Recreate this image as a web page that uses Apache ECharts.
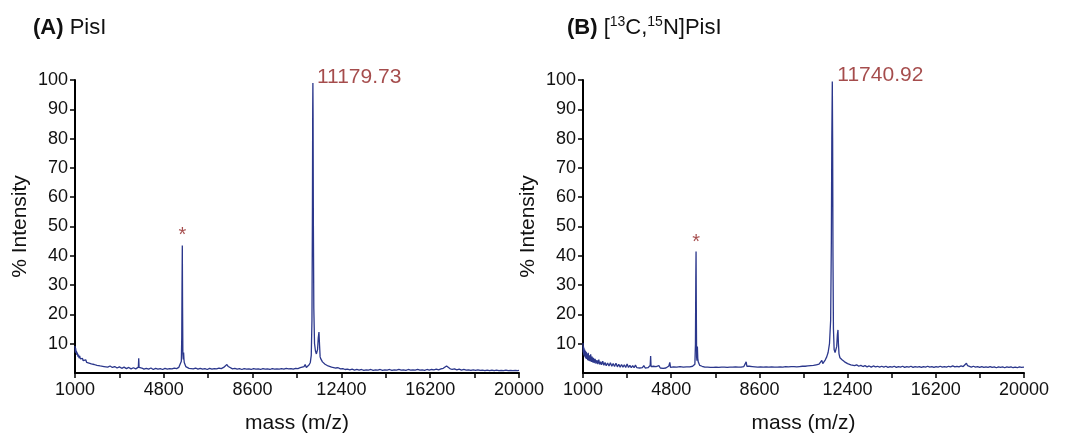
<!DOCTYPE html>
<html>
<head>
<meta charset="utf-8">
<script src="https://cdn.jsdelivr.net/npm/echarts@6/dist/echarts.min.js"></script>
<style>
html,body{margin:0;padding:0;background:#fff;}
#chart{width:1065px;height:439px;}
</style>
</head>
<body>
<div id="chart"></div>
<script>
// ---- Data ----
const xTickValues = [1000, 2900, 4800, 6700, 8600, 10500, 12400, 14300, 16200, 18100, 20000];
const xLabelValues = [1000, 4800, 8600, 12400, 16200, 20000];
const yTickValues = [10, 20, 30, 40, 50, 60, 70, 80, 90, 100];

// Panel A: PisI  [mass (m/z), % intensity]
const spectrumA = [
[1000,9.2],[1015,7.0],[1030,8.4],[1045,6.8],[1060,7.6],[1080,6.2],[1100,7.0],[1125,5.6],[1150,6.3],[1175,5.1],
[1200,5.8],[1230,4.8],[1260,5.4],[1290,4.4],[1320,5.0],[1350,4.2],[1380,4.7],[1420,3.9],[1460,4.5],[1500,3.6],
[1550,4.2],[1600,3.4],[1650,3.9],[1700,3.1],[1760,3.6],[1820,2.9],[1880,3.3],[1940,2.6],[2000,3.0],[2080,2.4],
[2160,2.8],[2240,2.2],[2320,2.6],[2400,2.0],[2500,2.4],[2600,1.9],[2700,2.2],[2800,1.7],[2900,2.1],[3000,1.6],
[3100,2.0],[3200,1.5],[3300,1.9],[3400,1.4],[3500,1.8],[3600,1.4],[3680,1.7],[3712,2.0],[3727,5.0],[3742,1.9],
[3780,1.4],[3860,1.7],[3950,1.3],[4050,1.6],[4150,1.3],[4250,1.7],[4350,1.2],[4450,1.6],[4550,1.3],[4650,1.5],
[4750,1.2],[4850,1.6],[4950,1.3],[5050,1.5],[5150,1.4],[5250,1.7],[5350,1.5],[5440,1.9],[5510,2.3],[5550,4.0],
[5568,12],[5580,30],[5592,43.5],[5604,22],[5616,6.5],[5632,4.6],[5648,7.0],[5662,4.8],[5676,3.6],[5700,3.0],
[5740,2.2],[5800,1.9],[5880,1.6],[5960,1.8],[6060,1.4],[6160,1.7],[6260,1.3],[6360,1.6],[6460,1.3],[6560,1.5],
[6660,1.2],[6760,1.6],[6860,1.3],[6960,1.5],[7060,1.4],[7160,1.7],[7260,1.5],[7360,1.9],[7440,2.4],[7500,2.9],
[7560,2.2],[7640,1.7],[7740,1.4],[7840,1.6],[7940,1.3],[8040,1.5],[8140,1.2],[8240,1.5],[8340,1.3],[8440,1.4],
[8540,1.2],[8640,1.5],[8740,1.3],[8840,1.4],[8940,1.2],[9040,1.5],[9140,1.3],[9240,1.4],[9340,1.2],[9440,1.5],
[9540,1.3],[9640,1.4],[9740,1.3],[9840,1.5],[9940,1.3],[10040,1.6],[10140,1.4],[10240,1.5],[10340,1.3],[10440,1.6],
[10540,1.5],[10640,1.8],[10720,1.6],[10800,2.2],[10850,2.9],[10900,1.9],[10960,2.2],[11020,2.8],[11070,3.6],[11110,6.0],
[11140,18],[11160,55],[11172,90],[11180,99],[11188,88],[11200,52],[11220,22],[11250,10],[11290,7.5],[11330,6.5],
[11380,8.0],[11410,12],[11440,14],[11465,9.5],[11490,5.5],[11520,4.8],[11550,5.2],[11590,3.8],[11640,4.1],[11700,3.0],
[11760,3.2],[11830,2.4],[11900,2.6],[11980,2.0],[12060,2.1],[12160,1.7],[12260,1.8],[12360,1.4],[12460,1.5],[12560,1.2],
[12660,1.3],[12760,1.1],[12860,1.3],[12960,1.0],[13060,1.2],[13160,1.0],[13260,1.2],[13360,0.9],[13460,1.1],[13560,1.0],
[13660,1.2],[13760,0.9],[13860,1.1],[13960,1.0],[14060,1.2],[14160,0.9],[14260,1.1],[14360,1.0],[14460,1.2],[14560,0.9],
[14660,1.1],[14760,1.0],[14860,1.2],[14960,1.0],[15060,1.1],[15160,0.9],[15260,1.2],[15360,1.0],[15460,1.1],[15560,1.0],
[15660,1.2],[15760,1.0],[15860,1.1],[15960,0.9],[16060,1.2],[16160,1.0],[16260,1.2],[16360,1.1],[16460,1.3],[16560,1.1],
[16660,1.4],[16760,1.6],[16840,2.0],[16900,2.4],[16960,1.8],[17040,1.5],[17140,1.2],[17240,1.4],[17340,1.1],[17440,1.3],
[17540,1.0],[17640,1.2],[17740,1.0],[17840,1.1],[17940,0.9],[18040,1.1],[18140,0.9],[18240,1.1],[18340,0.9],[18440,1.0],
[18540,0.8],[18640,1.0],[18740,0.8],[18840,1.0],[18940,0.8],[19040,1.0],[19140,0.8],[19240,0.9],[19340,0.8],[19440,1.0],
[19540,0.8],[19640,0.9],[19740,0.8],[19840,0.9],[19940,0.8],[20000,0.9]
];

// Panel B: [13C,15N]PisI  [mass (m/z), % intensity]
const spectrumB = [
[1000,10.2],[1010,7.0],[1020,9.0],[1030,6.2],[1040,8.6],[1055,5.8],[1070,8.0],[1085,5.4],[1100,7.6],[1120,5.0],
[1140,7.2],[1160,4.8],[1180,6.6],[1200,4.4],[1225,6.9],[1250,4.2],[1275,6.0],[1300,4.0],[1330,6.4],[1360,3.8],
[1390,5.6],[1420,3.6],[1450,5.2],[1480,3.4],[1520,4.8],[1560,3.2],[1600,4.4],[1640,3.0],[1680,4.6],[1720,2.9],
[1760,3.9],[1800,2.8],[1850,4.0],[1900,2.6],[1950,3.6],[2000,2.5],[2060,3.4],[2120,2.4],[2180,3.5],[2240,2.3],
[2300,3.2],[2360,2.2],[2420,3.3],[2480,2.1],[2540,3.0],[2600,2.0],[2660,2.9],[2720,2.0],[2780,2.8],[2840,1.9],
[2900,3.1],[2960,1.9],[3020,2.6],[3080,1.8],[3140,2.5],[3200,1.8],[3260,2.7],[3320,1.8],[3380,2.4],[3440,1.7],
[3500,2.3],[3560,1.8],[3620,2.5],[3680,1.7],[3740,2.2],[3800,1.8],[3860,2.3],[3895,2.6],[3914,5.8],[3932,2.2],
[3970,1.8],[4030,2.3],[4090,1.7],[4150,2.2],[4210,1.7],[4270,2.5],[4330,1.7],[4390,2.1],[4450,1.6],[4510,2.2],
[4570,1.7],[4640,2.0],[4700,2.4],[4740,3.6],[4770,1.9],[4830,1.7],[4900,2.1],[4970,1.6],[5040,2.0],[5110,1.7],
[5180,2.2],[5250,1.6],[5320,2.0],[5390,1.7],[5460,2.1],[5530,1.7],[5600,2.1],[5660,1.8],[5720,2.3],[5780,2.2],
[5820,3.0],[5845,10],[5860,32],[5871,41.5],[5882,22],[5895,5.5],[5910,4.2],[5928,9.0],[5945,5.0],[5965,3.8],
[5990,3.2],[6030,2.6],[6080,3.0],[6130,2.3],[6190,2.6],[6250,2.0],[6310,2.5],[6370,2.0],[6430,2.3],[6490,1.9],
[6550,2.4],[6610,1.9],[6670,2.2],[6730,2.0],[6790,2.4],[6850,1.9],[6910,2.3],[6970,2.0],[7030,2.4],[7090,2.0],
[7150,2.2],[7210,1.9],[7270,2.4],[7330,2.0],[7390,2.3],[7450,2.0],[7510,2.5],[7570,2.1],[7630,2.4],[7690,2.0],
[7750,2.3],[7810,2.0],[7870,2.4],[7930,2.2],[7990,2.6],[8030,3.8],[8060,2.3],[8110,2.0],[8170,2.3],[8230,1.9],
[8290,2.2],[8350,1.8],[8410,2.1],[8470,1.8],[8530,2.0],[8590,1.8],[8650,2.1],[8710,1.8],[8770,2.0],[8830,1.7],
[8890,2.1],[8950,1.8],[9010,2.0],[9070,1.8],[9130,2.1],[9190,1.8],[9250,2.0],[9310,1.7],[9370,2.0],[9430,1.8],
[9490,2.1],[9550,1.8],[9610,2.0],[9670,1.9],[9730,2.2],[9790,1.9],[9850,2.1],[9910,1.9],[9970,2.2],[10030,1.9],
[10090,2.2],[10150,1.9],[10210,2.1],[10270,1.9],[10330,2.2],[10390,2.0],[10450,2.3],[10510,2.0],[10570,2.3],[10630,2.1],
[10690,2.4],[10750,2.1],[10810,2.5],[10870,2.2],[10930,2.6],[10990,2.3],[11050,2.8],[11110,2.5],[11170,3.0],[11230,2.8],
[11290,4.3],[11330,3.2],[11380,3.6],[11440,4.5],[11500,5.5],[11560,7.0],[11620,10],[11670,18],[11700,45],[11720,80],
[11741,99.5],[11755,80],[11770,40],[11790,15],[11820,8],[11860,7],[11900,7.5],[11930,9],[11960,13],[11985,14.7],
[12005,10],[12030,6.5],[12070,5.2],[12110,5.8],[12160,4.5],[12210,4.8],[12270,3.8],[12330,4.0],[12400,3.2],[12470,3.4],
[12540,2.8],[12620,3.0],[12700,2.5],[12790,2.8],[12880,2.3],[12970,2.6],[13060,2.2],[13150,2.5],[13240,2.1],[13330,2.4],
[13420,2.0],[13510,2.4],[13600,2.1],[13690,2.3],[13780,2.0],[13870,2.3],[13960,2.0],[14050,2.3],[14140,1.9],[14230,2.2],
[14320,2.0],[14410,2.3],[14500,1.9],[14590,2.2],[14680,2.0],[14770,2.3],[14860,1.9],[14950,2.2],[15040,2.0],[15130,2.3],
[15220,1.9],[15310,2.2],[15400,2.0],[15490,2.2],[15580,1.9],[15670,2.2],[15760,2.0],[15850,2.3],[15940,2.0],[16030,2.2],
[16120,1.9],[16210,2.2],[16300,2.0],[16390,2.3],[16480,2.0],[16570,2.2],[16660,2.0],[16750,2.3],[16840,2.1],[16930,2.4],
[17020,2.1],[17110,2.3],[17200,2.1],[17290,2.4],[17380,2.2],[17460,2.6],[17520,3.3],[17570,2.5],[17640,2.3],[17730,2.0],
[17820,2.3],[17910,2.0],[18000,2.2],[18090,1.9],[18180,2.2],[18270,1.9],[18360,2.1],[18450,1.9],[18540,2.2],[18630,1.9],
[18720,2.1],[18810,1.8],[18900,2.1],[18990,1.9],[19080,2.1],[19170,1.8],[19260,2.1],[19350,1.9],[19440,2.1],[19530,1.8],
[19620,2.0],[19710,1.8],[19800,2.1],[19890,1.9],[20000,2.0]
];

// Peak annotations [mass, intensity position, text]
const peakLabelA = [[11179.73, 100, '11179.73']];
const peakLabelB = [[11740.92, 100, '11740.92']];
const starA = [[5592, 46.8, '*']];
const starB = [[5871, 44.6, '*']];

// ---- Chart ----
const FONT = "'Liberation Sans', Arial, Helvetica, sans-serif";
const LINE_COLOR = '#2B378C';
const RED = '#8E1F1F';
const grids = [
  {left: 75, top: 80, width: 444, height: 294},
  {left: 583, top: 80, width: 441, height: 294}
];

function xAxis(i) {
  return {
    type: 'value', gridIndex: i, min: 1000, max: 20000,
    name: 'mass (m/z)', nameLocation: 'middle', nameGap: 40,
    nameTextStyle: {fontFamily: FONT, fontSize: 21, color: '#111'},
    axisLine: {show: true, onZero: false, lineStyle: {color: '#000', width: 2}},
    axisTick: {show: true, customValues: xTickValues, length: 5, lineStyle: {color: '#000', width: 1.5}},
    axisLabel: {customValues: xLabelValues, formatter: v => String(v),
      fontFamily: FONT, fontSize: 18, color: '#111', margin: 8},
    splitLine: {show: false}
  };
}
function yAxis(i) {
  return {
    type: 'value', gridIndex: i, min: 0, max: 100, interval: 10,
    name: '% Intensity', nameLocation: 'middle', nameGap: 44,
    nameTextStyle: {fontFamily: FONT, fontSize: 21, color: '#111'},
    axisLine: {show: true, lineStyle: {color: '#000', width: 2}},
    axisTick: {show: true, customValues: yTickValues, length: 5, lineStyle: {color: '#000', width: 1.5}},
    axisLabel: {customValues: yTickValues, formatter: v => String(v),
      fontFamily: FONT, fontSize: 18, color: '#111', margin: 7},
    splitLine: {show: false}
  };
}
function spectrum(i, data) {
  return {
    type: 'line', xAxisIndex: i, yAxisIndex: i, data: data,
    showSymbol: false, symbol: 'none', silent: true,
    lineStyle: {color: LINE_COLOR, width: 1.3}, z: 2
  };
}
function annot(i, data, fontSize, offset, pos) {
  return {
    type: 'scatter', xAxisIndex: i, yAxisIndex: i, symbolSize: 0, silent: true,
    data: data.map(d => ({value: [d[0], d[1]], name: d[2]})),
    label: {show: true, formatter: p => p.name, position: pos, distance: 4,
      offset: offset, fontFamily: FONT, fontSize: fontSize, color: RED}, z: 3
  };
}

const titleRich = {
  b: {fontFamily: FONT, fontSize: 22, fontWeight: 'bold', color: '#111', lineHeight: 26},
  n: {fontFamily: FONT, fontSize: 22, fontWeight: 'normal', color: '#111', lineHeight: 26},
  sup: {fontFamily: FONT, fontSize: 14, fontWeight: 'normal', color: '#111', lineHeight: 14, verticalAlign: 'top'}
};

const chart = echarts.init(document.getElementById('chart'), null, {renderer: 'canvas'});
chart.setOption({
  animation: false,
  backgroundColor: '#fff',
  title: [
    {left: 28, top: 10, text: '{b|(A)}{n| PisI}', textStyle: {fontWeight: 'normal', rich: titleRich}},
    {left: 562, top: 10, text: '{b|(B)}{n| [}{sup|13}{n|C,}{sup|15}{n|N]PisI}', textStyle: {fontWeight: 'normal', rich: titleRich}}
  ],
  grid: grids,
  xAxis: [xAxis(0), xAxis(1)],
  yAxis: [yAxis(0), yAxis(1)],
  series: [
    spectrum(0, spectrumA),
    spectrum(1, spectrumB),
    annot(0, peakLabelA, 21, [0, -3], 'right'),
    annot(1, peakLabelB, 21, [1, -5], 'right'),
    annot(0, starA, 20, [0, 0], 'inside'),
    annot(1, starB, 20, [0, 0], 'inside')
  ]
});
</script>
</body>
</html>
